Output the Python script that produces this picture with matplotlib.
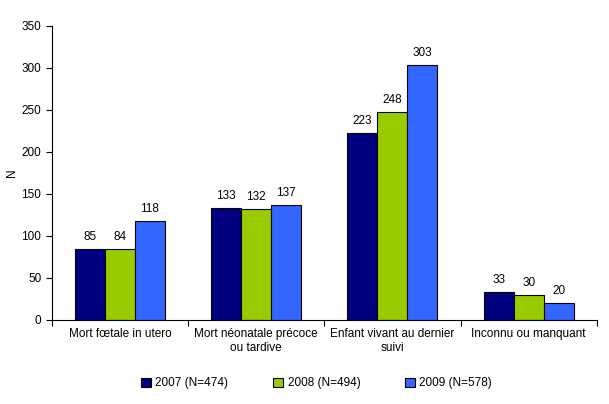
import numpy as np
import matplotlib.pyplot as plt

plt.rcParams['font.family'] = ['Liberation Sans', 'DejaVu Sans']

categories = ['Mort fœtale in utero', 'Mort néonatale précoce\nou tardive',
              'Enfant vivant au dernier\nsuivi', 'Inconnu ou manquant']
series_labels = ['2007 (N=474)', '2008 (N=494)', '2009 (N=578)']
values_2007 = [85, 133, 223, 33]
values_2008 = [84, 132, 248, 30]
values_2009 = [118, 137, 303, 20]
colors = ['#000080', '#99CC00', '#3366FF']

fig = plt.figure(figsize=(6.09, 4.04), dpi=100)
ax = fig.add_axes([0.085, 0.208, 0.895, 0.728])

x = np.arange(len(categories))
w = 0.22
for i, (vals, lab, col) in enumerate(zip([values_2007, values_2008, values_2009],
                                          series_labels, colors)):
    bars = ax.bar(x + (i - 1) * w, vals, w, color=col, edgecolor='black',
                  linewidth=0.8, label=lab)
    for b, v in zip(bars, vals):
        ax.text(b.get_x() + b.get_width() / 2, v + 7, str(v), ha='center',
                va='bottom', fontsize=8.5)

ax.set_xlim(-0.5, len(categories) - 0.5)
ax.set_ylim(0, 350)
ax.set_yticks(range(0, 351, 50))
ax.tick_params(axis='y', labelsize=8.5, direction='out', length=4)
ax.set_xticks(np.arange(len(categories) + 1) - 0.5)
ax.set_xticklabels([])
ax.set_xticks(x, minor=True)
ax.set_xticklabels(categories, minor=True, fontsize=8.5)
ax.tick_params(axis='x', which='major', direction='out', length=4)
ax.tick_params(axis='x', which='minor', length=0, pad=6)
ax.spines['top'].set_visible(False)
ax.spines['right'].set_visible(False)
ax.set_ylabel('N', fontsize=8.5)
ax.yaxis.set_label_coords(-0.062, 0.5)

fig.legend(loc='lower center', bbox_to_anchor=(0.52, 0.01), ncol=3, frameon=False,
           fontsize=8.5, handlelength=0.8, handleheight=0.8, columnspacing=3.8,
           handletextpad=0.4)

fig.savefig('out.png', dpi=100)
